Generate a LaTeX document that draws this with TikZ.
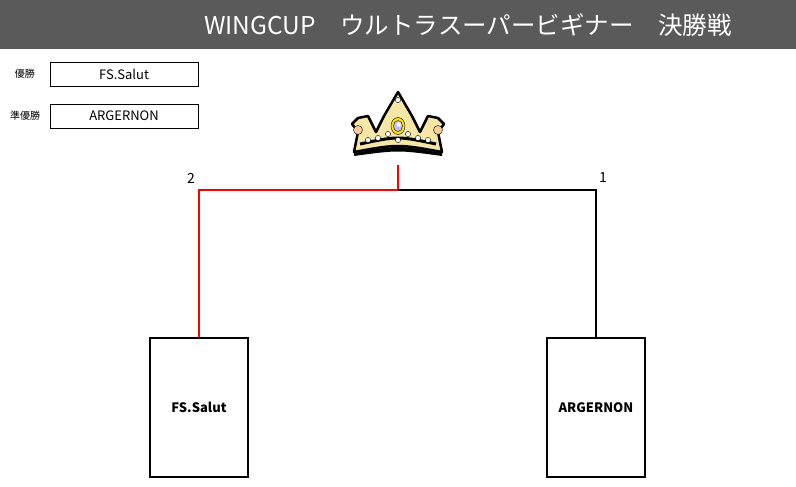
\documentclass[tikz,border=0pt]{standalone}
\usepackage{fontspec}
\newfontfamily\jp{Noto Sans CJK JP}
\definecolor{band}{HTML}{5A5A5A}
\definecolor{gold}{HTML}{F6E7A6}
\definecolor{win}{HTML}{FF0000}
\begin{document}
\begin{tikzpicture}[x=1pt,y=-1pt,
  lbl/.style={font=\jp\fontsize{10}{11}\selectfont},
  rbox/.style={draw,thin,minimum width=148pt,minimum height=24pt,font=\jp\fontsize{13}{14}\selectfont},
  team/.style={draw,line width=1.6pt,minimum width=98pt,minimum height=139pt,font=\jp\bfseries\fontsize{13}{14}\selectfont},
  num/.style={font=\jp\fontsize{14}{15}\selectfont}]
\useasboundingbox (0,0) rectangle (796,487);
\fill[band] (0,0) rectangle (796,49);
\node[text=white,font=\jp\fontsize{24.5}{26}\selectfont] (title) at (468,25) {WINGCUP\quad ウルトラスーパービギナー\quad 決勝戦};
\node[lbl] (l1) at (25,74) {優勝};
\node[rbox] (b1) at (124,74) {FS.Salut};
\node[lbl] (l2) at (25,116) {準優勝};
\node[rbox] (b2) at (124,116) {ARGERNON};
% crown
\begin{scope}[shift={(398,122)}]
\fill[gold,draw=black,line width=2.5pt,line join=round]
  (-44,30) -- (-40,10) -- (-46,2) -- (-40,-4) -- (-30,-6) -- (-22,10) -- (-14,-6) -- (0,-30) -- (14,-6) -- (22,10) -- (30,-6) -- (40,-4) -- (46,2) -- (40,10) -- (44,30) .. controls (0,22) .. (-44,30) -- cycle;
\draw[black,line width=3pt] (-38,22) .. controls (0,14) .. (38,22);
\fill[black] (-44,31) .. controls (0,23) .. (44,31) -- (44,34) .. controls (0,28) .. (-44,34) -- cycle;
\foreach \p in {(-30,18),(-20,16),(20,16),(30,18),(0,-22),(-10,12),(10,12),(0,18)} \fill[white,draw=black,thin] \p circle (2.6);
\fill[orange!40,draw=black,thin] (-40,8) circle (4.5);
\fill[orange!40,draw=black,thin] (40,8) circle (4.5);
\fill[yellow!80!orange,draw=black,thin] (0,4) ellipse (7 and 8.5);
\fill[blue!25,draw=black,thin] (0,4) ellipse (4.5 and 5.5);
\fill[white] (0.8,2.5) circle (2.2);
\end{scope}
\node[team] (t2) at (199,407.5) {FS.Salut};
\node[team] (t1) at (596,407.5) {ARGERNON};
\coordinate (top) at (398,165);
\coordinate (mid) at (398,190);
\draw[win,line width=1.4pt] (top) -- (mid) -| (t2.north);
\draw[black,line width=1.4pt] (mid) -| (t1.north);
\node[num] (n2) at (191,178) {2};
\node[num] (n1) at (603,178) {1};
\end{tikzpicture}
\end{document}
